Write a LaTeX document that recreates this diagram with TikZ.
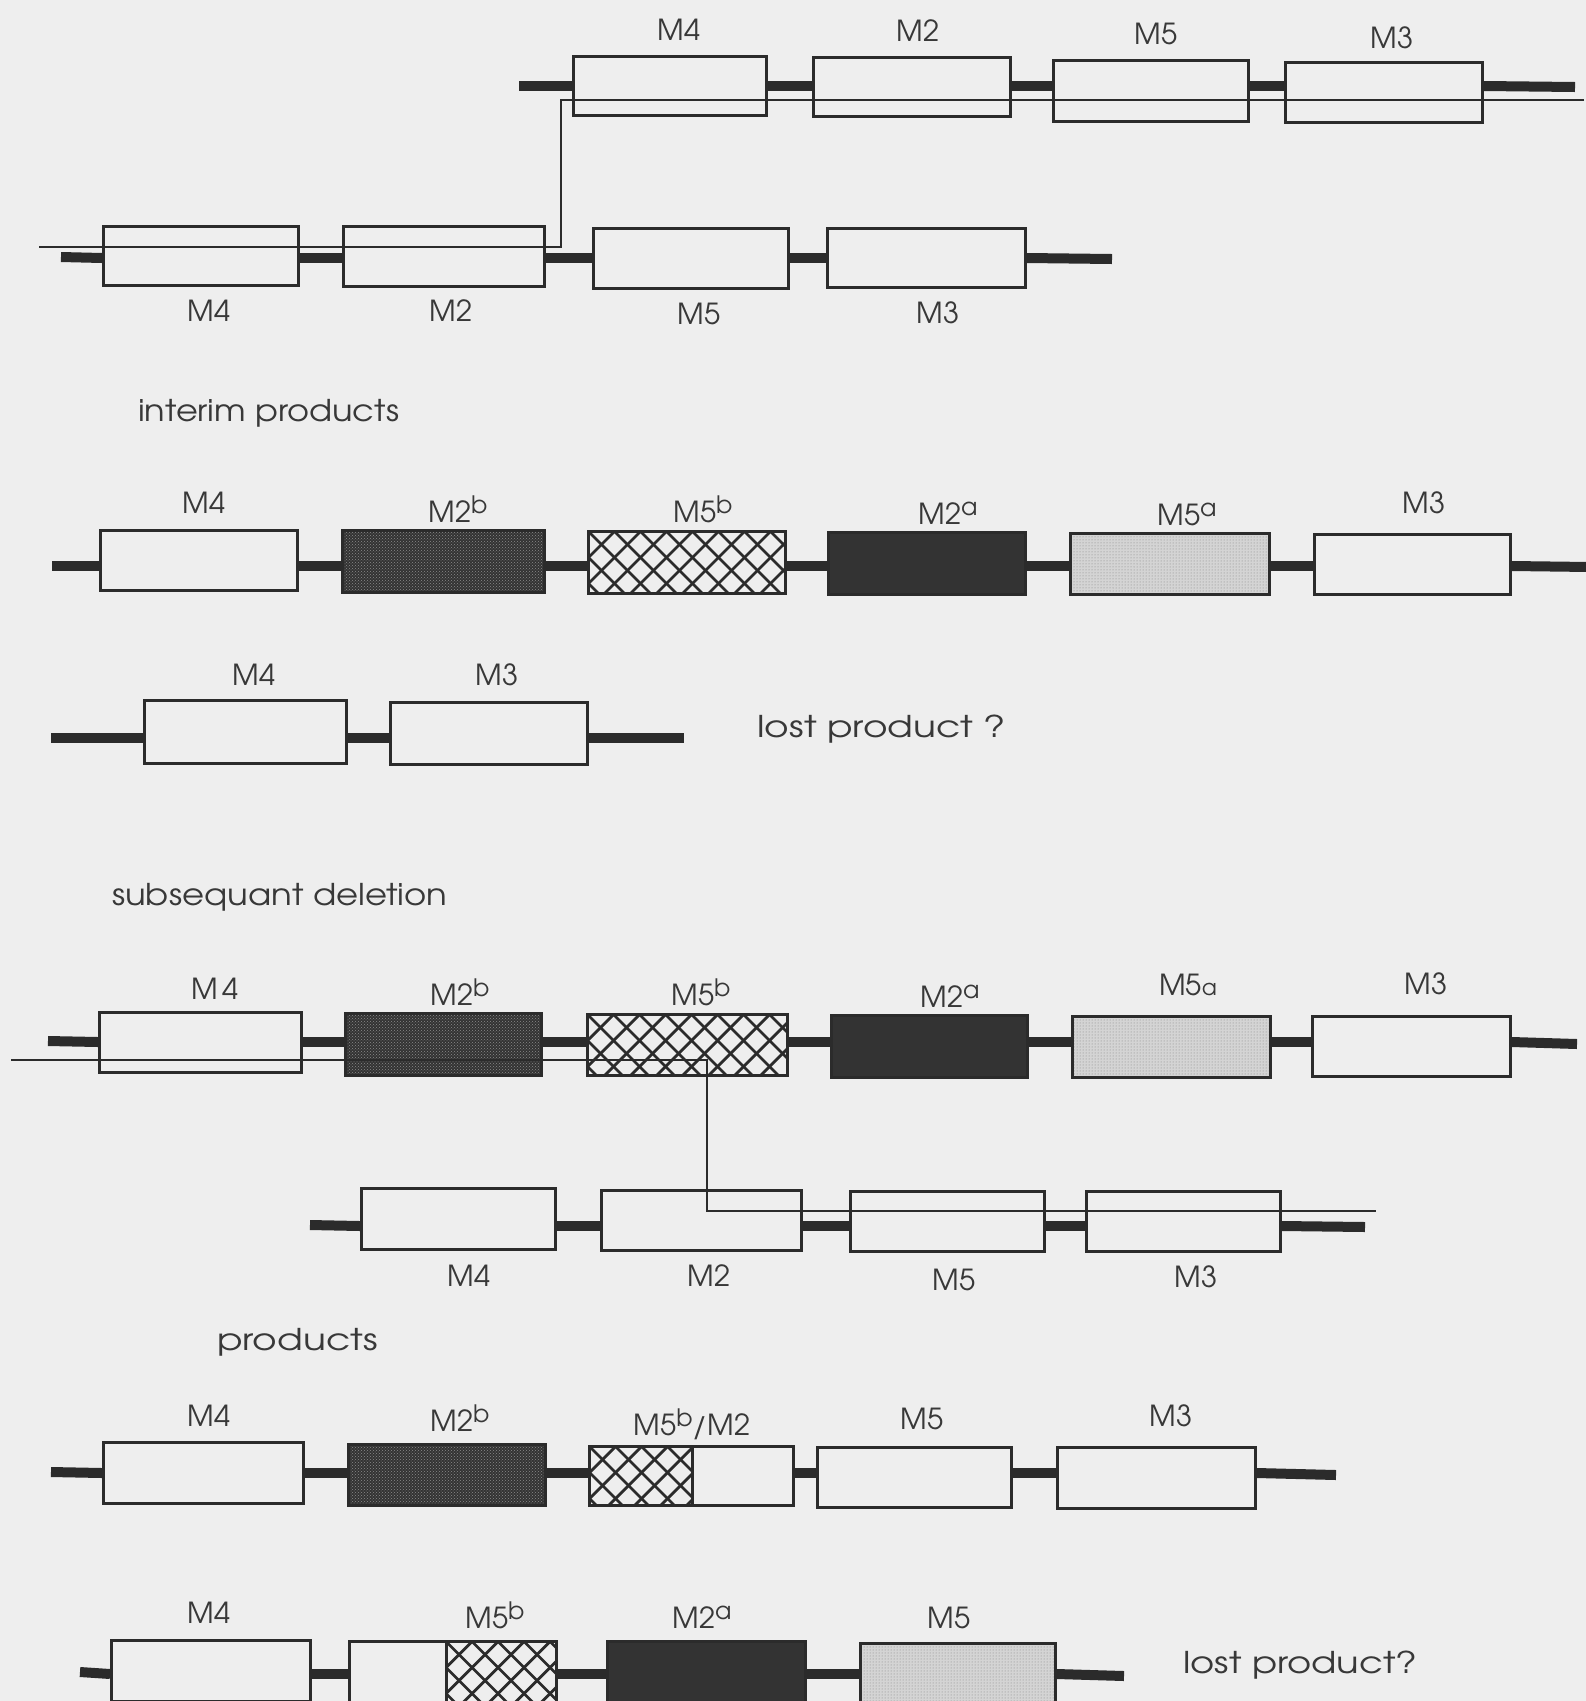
\documentclass[tikz,border=0pt]{standalone}
\usepackage{fontspec}
\setmainfont{TeX Gyre Adventor}
\usetikzlibrary{patterns}
\definecolor{bg}{HTML}{EEEEEE}
\definecolor{ink}{HTML}{2B2B2B}
\definecolor{txt}{HTML}{383838}
\definecolor{darkb}{HTML}{333333}
\definecolor{darka}{HTML}{333333}
\definecolor{lighta}{HTML}{D4D4D4}
\newcommand{\supx}[1]{\raisebox{9pt}{\fontsize{24}{24}\selectfont #1}}
\newcommand{\subsmall}[1]{{\fontsize{22}{22}\selectfont #1}}
\newcommand{\wide}[1]{\addfontfeatures{FakeStretch=#1}}
\tikzset{
  gene/.style={draw=ink, line width=3pt, fill=bg, inner sep=0pt, rectangle},
  bb/.style={draw=ink, line width=10pt},
  rec/.style={draw=ink, line width=2.5pt},
  lab/.style={text=txt, font=\fontsize{29}{29}\selectfont, inner sep=0pt, anchor=base},
  note/.style={text=txt, font=\fontsize{30}{30}\selectfont, inner sep=0pt, anchor=base west},
  hatchline/.style={draw=ink, line width=2.8pt},
  xhatch/.style={path picture={
    \foreach \k in {-4,...,11}{
      \draw[hatchline] ([xshift=\k*26pt]path picture bounding box.north west) -- ++(90pt,-90pt);
      \draw[hatchline] ([xshift=\k*26pt]path picture bounding box.north west) -- ++(-90pt,-90pt);
    }}},
  dotb/.style={preaction={fill=darkb}, pattern=crosshatch dots, pattern color=gray!90},
  dota/.style={fill=darka},
  dotc/.style={preaction={fill=lighta}, pattern=dots, pattern color=gray},
}
\begin{document}
\begin{tikzpicture}[x=1pt,y=-1pt]
\fill[bg] (0,0) rectangle (1586,1701);
\useasboundingbox (0,0) rectangle (1586,1701);
\clip (0,0) rectangle (1586,1701);

% ---------------- row 1 ----------------
\coordinate (y1) at (0,86);
\coordinate (b1l) at (519,86);
\coordinate (b1r) at (1575,87);
\node[gene, minimum width=193pt, minimum height=59pt] (r1a) at (670,86) {};
\node[gene, minimum width=197pt, minimum height=59pt] (r1b) at (912,87) {};
\node[gene, minimum width=195pt, minimum height=61pt] (r1c) at (1151,91) {};
\node[gene, minimum width=197pt, minimum height=60pt] (r1d) at (1384,92.5) {};
\draw[bb] (b1l) -- (r1a.west |- y1);
\foreach \a/\b in {r1a/r1b, r1b/r1c, r1c/r1d} \draw[bb] (\a.east |- y1) -- (\b.west |- y1);
\draw[bb] (r1d.east |- y1) -- (b1r);
\node[lab] (l1a) at (679,40) {M4};
\node[lab] (l1b) at (918,41) {M2};
\node[lab] (l1c) at (1156,44) {M5};
\node[lab] (l1d) at (1392,48) {M3};

% ---------------- row 2 ----------------
\coordinate (y2) at (0,258);
\coordinate (b2l) at (61,257);
\coordinate (b2r) at (1112,259);
\node[gene, minimum width=195pt, minimum height=59pt] (r2a) at (201,256) {};
\node[gene, minimum width=201pt, minimum height=60pt] (r2b) at (444,256.5) {};
\node[gene, minimum width=195pt, minimum height=60pt] (r2c) at (691,258.5) {};
\node[gene, minimum width=198pt, minimum height=59pt] (r2d) at (926.5,258) {};
\draw[bb] (b2l) -- (r2a.west |- y2);
\foreach \a/\b in {r2a/r2b, r2b/r2c, r2c/r2d} \draw[bb] (\a.east |- y2) -- (\b.west |- y2);
\draw[bb] (r2d.east |- y2) -- (b2r);
\node[lab] (l2a) at (209,321) {M4};
\node[lab] (l2b) at (451,321) {M2};
\node[lab] (l2c) at (699,324) {M5};
\node[lab] (l2d) at (938,323) {M3};

% recombination line 1-2
\coordinate (t1r) at (1584,100);
\coordinate (t1c) at (561,100);
\coordinate (t2c) at (561,247);
\coordinate (t2l) at (39,247);
\draw[rec] (t1r) -- (t1c) -- (t2c) -- (t2l);

\node[note] (interim) at (138,421) {\wide{1.12}interim products};

% ---------------- row 3 ----------------
\coordinate (y3) at (0,566);
\coordinate (b3l) at (52,566);
\coordinate (b3r) at (1590,567);
\node[gene, minimum width=197pt, minimum height=60pt] (r3a) at (199,560.5) {};
\node[gene, dotb, minimum width=202pt, minimum height=62pt] (r3b) at (443.5,561.5) {};
\node[gene, xhatch, minimum width=197pt, minimum height=62pt] (r3c) at (687,562.5) {};
\node[gene, dota, minimum width=197pt, minimum height=62pt] (r3d) at (927,563.5) {};
\node[gene, dotc, minimum width=199pt, minimum height=61pt] (r3e) at (1170,564) {};
\node[gene, minimum width=196pt, minimum height=60pt] (r3f) at (1412.5,564.5) {};
\draw[bb] (b3l) -- (r3a.west |- y3);
\foreach \a/\b in {r3a/r3b, r3b/r3c, r3c/r3d, r3d/r3e, r3e/r3f} \draw[bb] (\a.east |- y3) -- (\b.west |- y3);
\draw[bb] (r3f.east |- y3) -- (b3r);
\node[lab] (l3a) at (204,513) {M4};
\node[lab] (l3b) at (458,522) {M2\supx{b}};
\node[lab] (l3c) at (703,522) {M5\supx{b}};
\node[lab] (l3d) at (948,524) {M2\supx{a}};
\node[lab] (l3e) at (1187,525) {M5\supx{a}};
\node[lab] (l3f) at (1424,513) {M3};

% ---------------- row 4 ----------------
\coordinate (y4) at (0,738);
\coordinate (b4l) at (51,738);
\coordinate (b4r) at (684,738);
\node[gene, minimum width=202pt, minimum height=63pt] (r4a) at (245.5,732) {};
\node[gene, minimum width=197pt, minimum height=62pt] (r4b) at (489,733.5) {};
\draw[bb] (b4l) -- (r4a.west |- y4);
\draw[bb] (r4a.east |- y4) -- (r4b.west |- y4);
\draw[bb] (r4b.east |- y4) -- (b4r);
\node[lab] (l4a) at (254,685) {M4};
\node[lab] (l4b) at (497,685) {M3};
\node[note] (lost1) at (757,737) {\wide{1.25}lost product ?};

\node[note] (subseq) at (112,905) {\wide{1.13}subsequant deletion};

% ---------------- row 5 ----------------
\coordinate (y5) at (0,1042);
\coordinate (b5l) at (48,1041);
\coordinate (b5r) at (1577,1044);
\node[gene, minimum width=202pt, minimum height=60pt] (r5a) at (200.5,1042.5) {};
\node[gene, dotb, minimum width=196pt, minimum height=62pt] (r5b) at (443.5,1044.5) {};
\node[gene, xhatch, minimum width=200pt, minimum height=61pt] (r5c) at (687.5,1045) {};
\node[gene, dota, minimum width=196pt, minimum height=62pt] (r5d) at (929.5,1046.5) {};
\node[gene, dotc, minimum width=198pt, minimum height=61pt] (r5e) at (1171.5,1047) {};
\node[gene, minimum width=198pt, minimum height=60pt] (r5f) at (1411.5,1046.5) {};
\draw[bb] (b5l) -- (r5a.west |- y5);
\foreach \a/\b in {r5a/r5b, r5b/r5c, r5c/r5d, r5d/r5e, r5e/r5f} \draw[bb] (\a.east |- y5) -- (\b.west |- y5);
\draw[bb] (r5f.east |- y5) -- (b5r);
\node[lab] (l5a) at (215,999) {M\,4};
\node[lab] (l5b) at (460,1005) {M2\supx{b}};
\node[lab] (l5c) at (701,1005) {M5\supx{b}};
\node[lab] (l5d) at (950,1007) {M2\supx{a}};
\node[lab] (l5e) at (1188,995) {M5\subsmall{a}};
\node[lab] (l5f) at (1426,994) {M3};

% ---------------- row 6 ----------------
\coordinate (y6) at (0,1226);
\coordinate (b6l) at (310,1225);
\coordinate (b6r) at (1365,1227);
\node[gene, minimum width=194pt, minimum height=61pt] (r6a) at (458.5,1219) {};
\node[gene, minimum width=200pt, minimum height=60pt] (r6b) at (701.5,1220.5) {};
\node[gene, minimum width=194pt, minimum height=60pt] (r6c) at (947.5,1221.5) {};
\node[gene, minimum width=194pt, minimum height=60pt] (r6d) at (1183.5,1221.5) {};
\draw[bb] (b6l) -- (r6a.west |- y6);
\foreach \a/\b in {r6a/r6b, r6b/r6c, r6c/r6d} \draw[bb] (\a.east |- y6) -- (\b.west |- y6);
\draw[bb] (r6d.east |- y6) -- (b6r);
\node[lab] (l6a) at (469,1286) {M4};
\node[lab] (l6b) at (709,1286) {M2};
\node[lab] (l6c) at (954,1290) {M5};
\node[lab] (l6d) at (1196,1287) {M3};

% recombination line 5-6
\coordinate (t5l) at (11,1060);
\coordinate (t5c) at (707,1060);
\coordinate (t6c) at (707,1211);
\coordinate (t6r) at (1376,1211);
\draw[rec] (t5l) -- (t5c) -- (t6c) -- (t6r);

\node[note] (prod) at (217,1350) {\wide{1.25}products};

% ---------------- row 7 ----------------
\coordinate (y7) at (0,1473);
\coordinate (b7l) at (51,1472);
\coordinate (b7r) at (1336,1475);
\node[gene, minimum width=200pt, minimum height=61pt] (r7a) at (203.5,1473) {};
\node[gene, dotb, minimum width=197pt, minimum height=61pt] (r7b) at (447,1475) {};
\node[gene, xhatch, minimum width=102.5pt, minimum height=59pt] (r7c) at (640.75,1476) {};
\node[gene, minimum width=101.5pt, minimum height=59pt] (r7d) at (742.75,1476) {};
\node[gene, minimum width=194pt, minimum height=60pt] (r7e) at (914.5,1477.5) {};
\node[gene, minimum width=198pt, minimum height=61pt] (r7f) at (1156.5,1478) {};
\draw[bb] (b7l) -- (r7a.west |- y7);
\foreach \a/\b in {r7a/r7b, r7b/r7c, r7d/r7e, r7e/r7f} \draw[bb] (\a.east |- y7) -- (\b.west |- y7);
\draw[bb] (r7f.east |- y7) -- (b7r);
\node[lab] (l7a) at (209,1426) {M4};
\node[lab] (l7b) at (460,1431) {M2\supx{b}};
\node[lab] (l7c) at (692,1435) {M5\supx{b}/M2};
\node[lab] (l7e) at (922,1429) {M5};
\node[lab] (l7f) at (1171,1426) {M3};

% ---------------- row 8 ----------------
\coordinate (y8) at (0,1674);
\coordinate (b8l) at (80,1672);
\coordinate (b8r) at (1124,1676);
\node[gene, minimum width=199pt, minimum height=61pt] (r8a) at (211,1671) {};
\node[gene, minimum width=96.5pt, minimum height=61pt] (r8b) at (397.75,1672) {};
\node[gene, xhatch, minimum width=110.5pt, minimum height=61pt] (r8c) at (501.25,1672) {};
\node[gene, dota, minimum width=198pt, minimum height=61pt] (r8d) at (706.5,1672) {};
\node[gene, dotc, minimum width=195pt, minimum height=61pt] (r8e) at (958,1674) {};
\draw[bb] (b8l) -- (r8a.west |- y8);
\foreach \a/\b in {r8a/r8b, r8c/r8d, r8d/r8e} \draw[bb] (\a.east |- y8) -- (\b.west |- y8);
\draw[bb] (r8e.east |- y8) -- (b8r);
\node[lab] (l8a) at (209,1623) {M4};
\node[lab] (l8b) at (495,1628) {M5\supx{b}};
\node[lab] (l8c) at (702,1628) {M2\supx{a}};
\node[lab] (l8d) at (949,1628) {M5};
\node[note] (lost2) at (1183,1673) {\wide{1.23}lost product?};
\end{tikzpicture}
\end{document}
